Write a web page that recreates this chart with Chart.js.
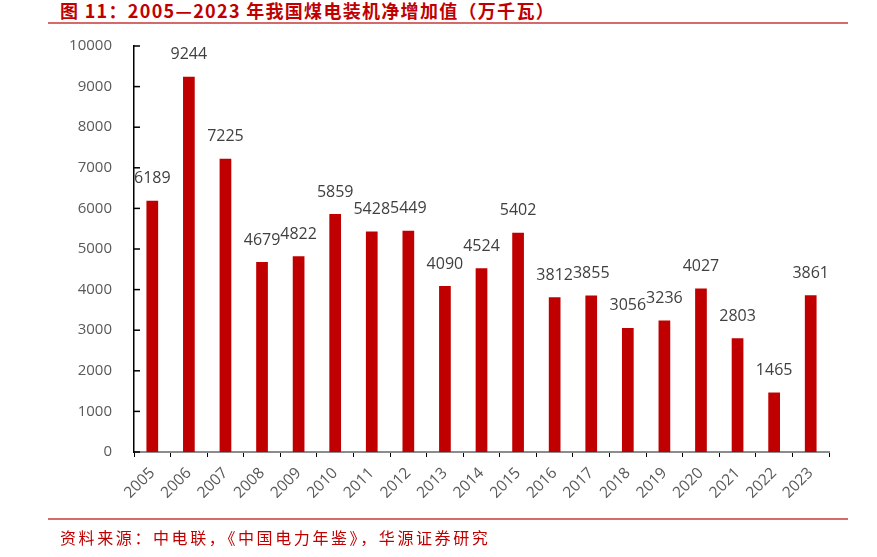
<!DOCTYPE html>
<html>
<head>
<meta charset="utf-8">
<script src="https://cdn.jsdelivr.net/npm/chart.js@4/dist/chart.umd.min.js"></script>
<style>
  html, body { margin: 0; padding: 0; background: #fff; }
  #wrap { position: relative; width: 877px; height: 557px; overflow: hidden; }
  #titulo { position: absolute; left: 60px; top: 0px; font: bold 18px "Noto Sans CJK SC", sans-serif; letter-spacing: 1.3px; color: #c00000; line-height: 20px; }
  #fonte { position: absolute; left: 60px; top: 527px; font: 16px "Noto Sans CJK SC", sans-serif; letter-spacing: 2.6px; color: #c00000; line-height: 20px; }
  .linha { position: absolute; left: 48px; width: 800px; height: 2px; background: #d46a6a; }
  canvas { position: absolute; left: 0; top: 0; }
</style>
</head>
<body>
<div id="wrap">
  <div id="titulo">图 11：2005—2023 年我国煤电装机净增加值（万千瓦）</div>
  <div class="linha" style="top:22px"></div>
  <canvas id="grafico" width="877" height="557"></canvas>
  <div class="linha" style="top:518px"></div>
  <div id="fonte">资料来源：中电联，《中国电力年鉴》，华源证券研究</div>
</div>
<script>
const anos = ['2005','2006','2007','2008','2009','2010','2011','2012','2013','2014','2015','2016','2017','2018','2019','2020','2021','2022','2023'];
const aumento = [6189, 9244, 7225, 4679, 4822, 5859, 5428, 5449, 4090, 4524, 5402, 3812, 3855, 3056, 3236, 4027, 2803, 1465, 3861];
const ticksY = [0, 1000, 2000, 3000, 4000, 5000, 6000, 7000, 8000, 9000, 10000];

// rotulos de valor acima das barras
const rotulos = {
    id: 'rotulos',
    afterDatasetsDraw(chart) {
        const ctx = chart.ctx;
        const meta = chart.getDatasetMeta(0);
        ctx.save();
        ctx.font = '16px "Open Sans", sans-serif';
        ctx.fillStyle = '#404040';
        ctx.textAlign = 'center';
        ctx.textBaseline = 'middle';
        meta.data.forEach(function (bar, i) {
            ctx.fillText(String(aumento[i]), bar.x, bar.y - 22);
        });
        ctx.restore();
    }
};

// marcas do eixo y para dentro
const marcasY = {
    id: 'marcasY',
    afterDraw(chart) {
        const ctx = chart.ctx;
        const y = chart.scales.y;
        const x0 = chart.chartArea.left;
        ctx.save();
        ctx.strokeStyle = '#000';
        ctx.lineWidth = 1.5;
        ticksY.forEach(function (v) {
            const py = y.getPixelForValue(v);
            ctx.beginPath();
            ctx.moveTo(x0, py);
            ctx.lineTo(x0 + 6, py);
            ctx.stroke();
        });
        ctx.restore();
    }
};

const ctx = document.getElementById('grafico').getContext('2d');
new Chart(ctx, {
    type: 'bar',
    data: {
        labels: anos,
        datasets: [{
            data: aumento,
            backgroundColor: '#c00000',
            borderWidth: 0,
            barPercentage: 0.32,
            categoryPercentage: 1
        }]
    },
    options: {
        responsive: false,
        animation: false,
        layout: { padding: { left: 0, right: 48, top: 46, bottom: 0 } },
        plugins: {
            legend: { display: false },
            tooltip: { enabled: false }
        },
        scales: {
            x: {
                afterFit(scale) { scale.height = 105; },
                border: { color: '#8c8c8c', width: 2 },
                grid: { drawOnChartArea: false, drawTicks: true, tickLength: 5, color: '#000', offset: true },
                ticks: {
                    minRotation: 45, maxRotation: 45,
                    color: '#595959',
                    font: { family: '"Open Sans", sans-serif', size: 15.5 },
                    padding: 7
                }
            },
            y: {
                min: 0, max: 10000,
                afterFit(scale) { scale.width = 134; },
                border: { color: '#000', width: 1.5 },
                grid: { display: false },
                ticks: {
                    stepSize: 1000,
                    callback: function (v) { return String(v); },
                    color: '#595959',
                    font: { family: '"Open Sans", sans-serif', size: 15 },
                    padding: 14
                }
            }
        }
    },
    plugins: [rotulos, marcasY]
});
</script>
</body>
</html>
